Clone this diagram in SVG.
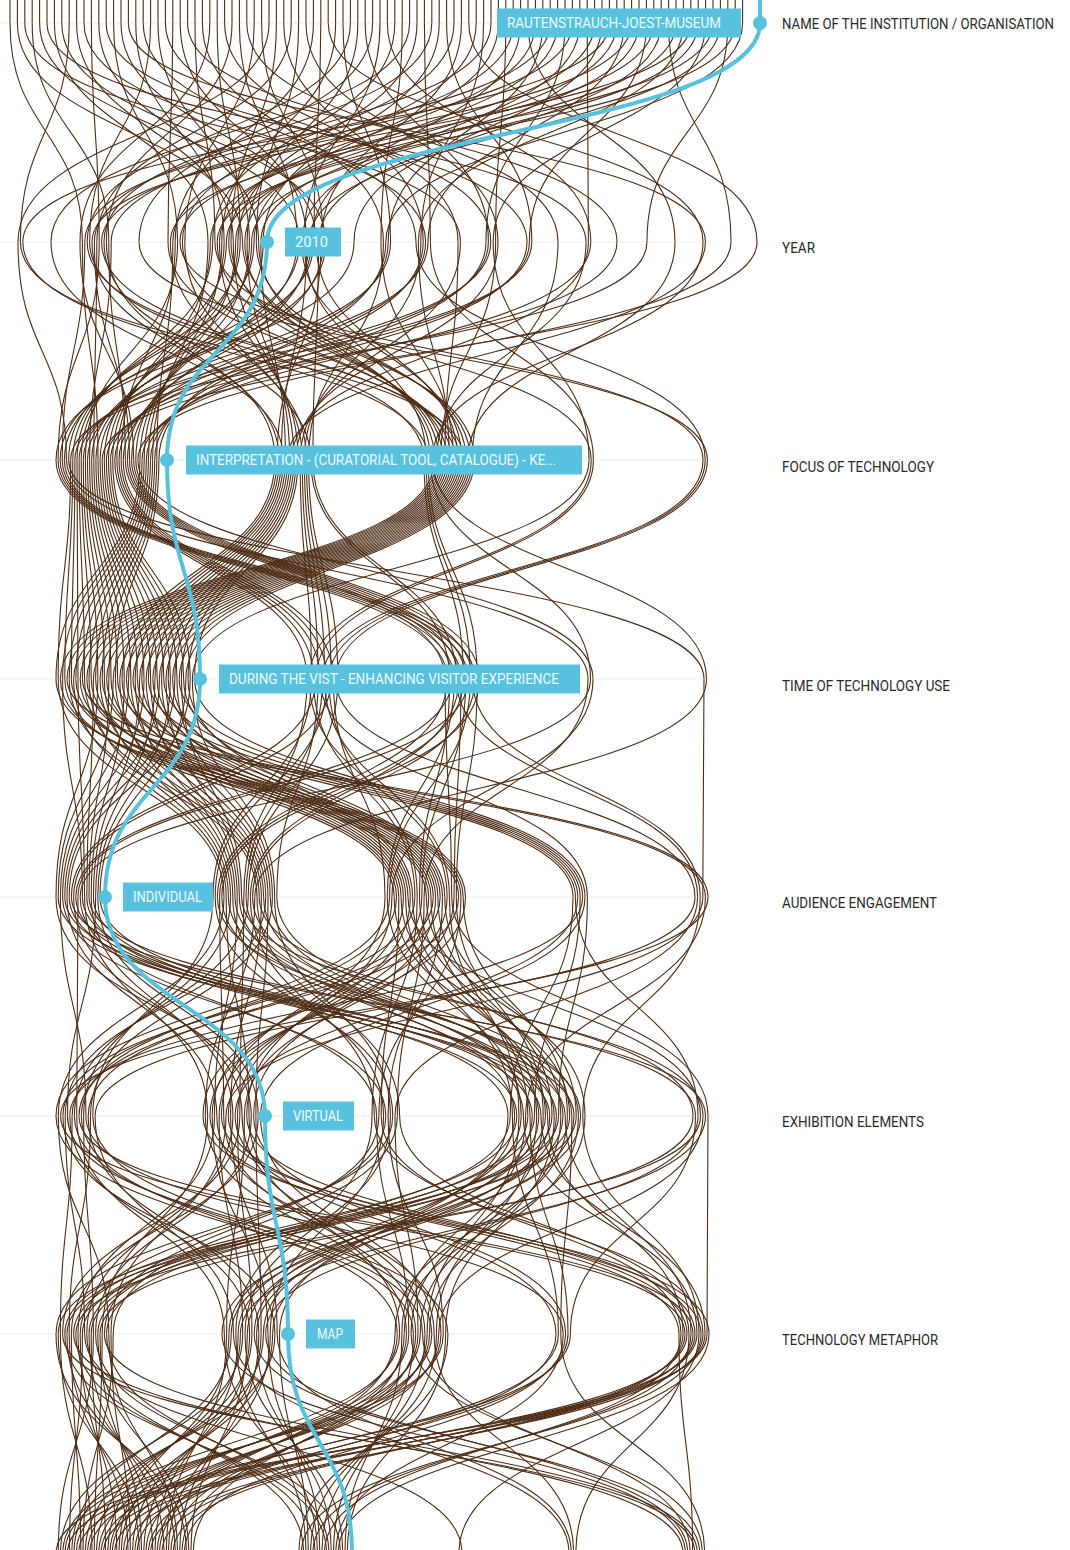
<svg xmlns="http://www.w3.org/2000/svg" width="1070" height="1550" viewBox="0 0 1070 1550">
<style>
.lbl{font-family:"Roboto","Liberation Sans",sans-serif;font-size:14px;fill:#2a2a2a;}
.bt{font-family:"Roboto","Liberation Sans",sans-serif;font-size:14px;fill:#eef9fc;}
.box{fill:#58c1de;}
.dot{fill:#58c1de;}
</style>
<rect width="1070" height="1550" fill="#ffffff"/>
<g id="connectors" fill="none" stroke="#4d2d16" stroke-width="1.1">
<path d="M10 0V23C10 132 82.4 132 82.4 242S98 351 98 460S144 570 144 679S62.6 788 62.6 897S385.8 1006 385.8 1116S80.2 1225 80.2 1334S116.8 1443 116.8 1553"/>
<path d="M17.4 0V23C17.4 132 242.5 132 242.5 242S470.2 351 470.2 460S172.6 570 172.6 679S410.3 788 410.3 897S237.5 1006 237.5 1116S251.9 1225 251.9 1334S96.5 1443 96.5 1553"/>
<path d="M24.8 0V23C24.8 132 460.4 132 460.4 242S300.2 351 300.2 460S311.4 570 311.4 679S213 788 213 897S92.8 1006 92.8 1116S431.8 1225 431.8 1334S76.3 1443 76.3 1553"/>
<path d="M32.2 0V23C32.2 132 108.8 132 108.8 242S125.3 351 125.3 460S445 570 445 679S451.7 788 451.7 897S708 1006 708 1116S707 1225 707 1334S56 1443 56 1553"/>
<path d="M39.6 0V23C39.6 132 299.4 132 299.4 242S64.4 351 64.4 460S474.9 570 474.9 679S252.6 788 252.6 897S563 1006 563 1116S222 1225 222 1334S685.4 1443 685.4 1553"/>
<path d="M47 0V23C47 132 586 132 586 242S436.6 351 436.6 460S67 570 67 679S705.4 788 705.4 897S525.6 1006 525.6 1116S401.9 1225 401.9 1334S345 1443 345 1553"/>
<path d="M54.4 0V23C54.4 132 208 132 208 242S152.6 351 152.6 460S95.6 570 95.6 679S398.8 788 398.8 897S381.2 1006 381.2 1116S681 1225 681 1334S324.3 1443 324.3 1553"/>
<path d="M61.8 0V23C61.8 132 325.8 132 325.8 242S91.7 351 91.7 460S124.2 570 124.2 679S91.2 788 91.2 897S232.9 1006 232.9 1116S86.8 1225 86.8 1334S303.6 1443 303.6 1553"/>
<path d="M69.2 0V23C69.2 132 20.4 132 20.4 242S463.9 351 463.9 460S152.8 570 152.8 679S440.2 788 440.2 897S88.2 1006 88.2 1116S258.8 1225 258.8 1334S179.8 1443 179.8 1553"/>
<path d="M76.6 0V23C76.6 132 233.3 132 233.3 242S293.9 351 293.9 460S181.4 570 181.4 679S241.6 788 241.6 897S703 1006 703 1116S438.7 1225 438.7 1334S159.5 1443 159.5 1553"/>
<path d="M84 0V23C84 132 425.6 132 425.6 242S119 351 119 460S320.2 570 320.2 679S587.4 788 587.4 897S558.6 1006 558.6 1116S58.2 1225 58.2 1334S139.3 1443 139.3 1553"/>
<path d="M91.4 0V23C91.4 132 99.2 132 99.2 242S58.1 351 58.1 460S454.2 570 454.2 679S387.3 788 387.3 897S521.2 1006 521.2 1116S228.9 1225 228.9 1334S119 1443 119 1553"/>
<path d="M98.8 0V23C98.8 132 258.6 132 258.6 242S430.3 351 430.3 460S590.5 570 590.5 679S80.2 788 80.2 897S376.6 1006 376.6 1116S408.8 1225 408.8 1334S98.8 1443 98.8 1553"/>
<path d="M106.2 0V23C106.2 132 527 132 527 242S146.3 351 146.3 460S75.8 570 75.8 679S428.7 788 428.7 897S228.3 1006 228.3 1116S687 1225 687 1334S78.5 1443 78.5 1553"/>
<path d="M113.6 0V23C113.6 132 177.6 132 177.6 242S85.4 351 85.4 460S104.4 570 104.4 679S230.6 788 230.6 897S83.6 1006 83.6 1116S93.4 1225 93.4 1334S58.3 1443 58.3 1553"/>
<path d="M121 0V23C121 132 316.2 132 316.2 242S457.6 351 457.6 460S133 570 133 679S575.4 788 575.4 897S698 1006 698 1116S265.7 1225 265.7 1334S687.8 1443 687.8 1553"/>
<path d="M128.4 0V23C128.4 132 705.4 132 705.4 242S287.6 351 287.6 460S161.6 570 161.6 679S270.2 788 270.2 897S554.2 1006 554.2 1116S445.6 1225 445.6 1334S347.3 1443 347.3 1553"/>
<path d="M135.8 0V23C135.8 132 224.1 132 224.1 242S112.7 351 112.7 460S190.2 570 190.2 679S69.2 788 69.2 897S516.8 1006 516.8 1116S64.8 1225 64.8 1334S326.6 1443 326.6 1553"/>
<path d="M143.2 0V23C143.2 132 416 132 416 242S705.2 351 705.2 460S329 570 329 679S417.2 788 417.2 897S372 1006 372 1116S235.8 1225 235.8 1334S305.9 1443 305.9 1553"/>
<path d="M150.6 0V23C150.6 132 89.6 132 89.6 242S424 351 424 460S463.4 570 463.4 679S219.6 788 219.6 897S223.7 1006 223.7 1116S415.7 1225 415.7 1334S182 1443 182 1553"/>
<path d="M158 0V23C158 132 249.4 132 249.4 242S140 351 140 460S56 570 56 679S458.6 788 458.6 897S79 1006 79 1116S693 1225 693 1334S161.8 1443 161.8 1553"/>
<path d="M165.4 0V23C165.4 132 490.8 132 490.8 242S79.1 351 79.1 460S84.6 570 84.6 679S259.2 788 259.2 897S693 1006 693 1116S100 1225 100 1334S141.5 1443 141.5 1553"/>
<path d="M172.8 0V23C172.8 132 168 132 168 242S451.3 351 451.3 460S113.2 570 113.2 679S58.2 788 58.2 897S549.8 1006 549.8 1116S272.6 1225 272.6 1334S121.3 1443 121.3 1553"/>
<path d="M180.2 0V23C180.2 132 306.6 132 306.6 242S281.3 351 281.3 460S141.8 570 141.8 679S405.7 788 405.7 897S512.4 1006 512.4 1116S558.4 1225 558.4 1334S101 1443 101 1553"/>
<path d="M187.6 0V23C187.6 132 617 132 617 242S106.4 351 106.4 460S170.4 570 170.4 679S97.8 788 97.8 897S258.2 1006 258.2 1116S71.4 1225 71.4 1334S80.8 1443 80.8 1553"/>
<path d="M195 0V23C195 132 214.9 132 214.9 242S591.2 351 591.2 460S309.2 570 309.2 679S447.1 788 447.1 897S219.1 1006 219.1 1116S242.7 1225 242.7 1334S60.5 1443 60.5 1553"/>
<path d="M202.4 0V23C202.4 132 383.4 132 383.4 242S308.6 351 308.6 460S337.8 570 337.8 679S248.2 788 248.2 897S74.4 1006 74.4 1116S422.6 1225 422.6 1334S690.2 1443 690.2 1553"/>
<path d="M209.8 0V23C209.8 132 80 132 80 242S133.7 351 133.7 460S472.6 570 472.6 679S700.2 788 700.2 897S582.8 1006 582.8 1116S699 1225 699 1334S459 1443 459 1553"/>
<path d="M217.2 0V23C217.2 132 240.2 132 240.2 242S72.8 351 72.8 460S64.8 570 64.8 679S394.2 788 394.2 897S545.4 1006 545.4 1116S106.6 1225 106.6 1334S328.9 1443 328.9 1553"/>
<path d="M224.6 0V23C224.6 132 458 132 458 242S445 351 445 460S93.4 570 93.4 679S86.8 788 86.8 897S508 1006 508 1116S279.5 1225 279.5 1334S308.2 1443 308.2 1553"/>
<path d="M232 0V23C232 132 106.4 132 106.4 242S275 351 275 460S122 570 122 679S435.6 788 435.6 897S253.6 1006 253.6 1116S565.6 1225 565.6 1334S184.3 1443 184.3 1553"/>
<path d="M239.4 0V23C239.4 132 297 132 297 242S100.1 351 100.1 460S150.6 570 150.6 679S237.2 788 237.2 897S214.5 1006 214.5 1116S78 1225 78 1334S164 1443 164 1553"/>
<path d="M246.8 0V23C246.8 132 558 132 558 242S472.3 351 472.3 460S179.2 570 179.2 679S582.6 788 582.6 897S69.8 1006 69.8 1116S249.6 1225 249.6 1334S143.8 1443 143.8 1553"/>
<path d="M254.2 0V23C254.2 132 184.8 132 184.8 242S302.3 351 302.3 460S318 570 318 679S276.8 788 276.8 897S578.4 1006 578.4 1116S429.5 1225 429.5 1334S123.5 1443 123.5 1553"/>
<path d="M261.6 0V23C261.6 132 323.4 132 323.4 242S127.4 351 127.4 460S451.9 570 451.9 679S75.8 788 75.8 897S541 1006 541 1116S705 1225 705 1334S103.3 1443 103.3 1553"/>
<path d="M269 0V23C269 132 18 132 18 242S66.5 351 66.5 460S588 570 588 679S424.1 788 424.1 897S397.3 1006 397.3 1116S113.2 1225 113.2 1334S83 1443 83 1553"/>
<path d="M276.4 0V23C276.4 132 231 132 231 242S438.7 351 438.7 460S73.6 570 73.6 679S226.2 788 226.2 897S249 1006 249 1116S399.6 1225 399.6 1334S62.8 1443 62.8 1553"/>
<path d="M283.8 0V23C283.8 132 423.2 132 423.2 242S154.7 351 154.7 460S102.2 570 102.2 679S465.5 788 465.5 897S209.9 1006 209.9 1116S679 1225 679 1334S692.6 1443 692.6 1553"/>
<path d="M291.2 0V23C291.2 132 96.8 132 96.8 242S93.8 351 93.8 460S130.8 570 130.8 679S265.8 788 265.8 897S65.2 1006 65.2 1116S84.6 1225 84.6 1334S462 1443 462 1553"/>
<path d="M298.6 0V23C298.6 132 256.3 132 256.3 242S466 351 466 460S159.4 570 159.4 679S64.8 788 64.8 897S574 1006 574 1116S256.5 1225 256.5 1334S331.2 1443 331.2 1553"/>
<path d="M306 0V23C306 132 498 132 498 242S296 351 296 460S188 570 188 679S412.6 788 412.6 897S536.6 1006 536.6 1116S436.4 1225 436.4 1334S310.5 1443 310.5 1553"/>
<path d="M313.4 0V23C313.4 132 175.2 132 175.2 242S121.1 351 121.1 460S326.8 570 326.8 679S215.2 788 215.2 897S392.7 1006 392.7 1116S56 1225 56 1334S186.5 1443 186.5 1553"/>
<path d="M320.8 0V23C320.8 132 313.8 132 313.8 242S60.2 351 60.2 460S461.1 570 461.1 679S454 788 454 897S244.4 1006 244.4 1116S226.6 1225 226.6 1334S166.3 1443 166.3 1553"/>
<path d="M328.2 0V23C328.2 132 703 132 703 242S432.4 351 432.4 460S706.5 570 706.5 679S254.8 788 254.8 897S205.3 1006 205.3 1116S406.5 1225 406.5 1334S146 1443 146 1553"/>
<path d="M335.6 0V23C335.6 132 221.8 132 221.8 242S148.4 351 148.4 460S82.4 570 82.4 679S708 788 708 897S60.6 1006 60.6 1116S685 1225 685 1334S125.8 1443 125.8 1553"/>
<path d="M343 0V23C343 132 390.6 132 390.6 242S87.5 351 87.5 460S111 570 111 679S401.1 788 401.1 897S569.6 1006 569.6 1116S91.2 1225 91.2 1334S105.5 1443 105.5 1553"/>
<path d="M350.4 0V23C350.4 132 87.2 132 87.2 242S459.7 351 459.7 460S139.6 570 139.6 679S93.4 788 93.4 897S532.2 1006 532.2 1116S263.4 1225 263.4 1334S85.3 1443 85.3 1553"/>
<path d="M357.8 0V23C357.8 132 247.1 132 247.1 242S289.7 351 289.7 460S168.2 570 168.2 679S442.5 788 442.5 897S388.1 1006 388.1 1116S443.3 1225 443.3 1334S65 1443 65 1553"/>
<path d="M365.2 0V23C365.2 132 488.4 132 488.4 242S114.8 351 114.8 460S307 570 307 679S243.8 788 243.8 897S239.8 1006 239.8 1116S62.6 1225 62.6 1334S695 1443 695 1553"/>
<path d="M372.6 0V23C372.6 132 139 132 139 242S707.4 351 707.4 460S335.6 570 335.6 679S695 788 695 897S95.1 1006 95.1 1116S233.5 1225 233.5 1334S569 1443 569 1553"/>
<path d="M380 0V23C380 132 304.2 132 304.2 242S426.1 351 426.1 460S470.3 570 470.3 679S389.6 788 389.6 897S56 1006 56 1116S413.4 1225 413.4 1334S333.5 1443 333.5 1553"/>
<path d="M387.4 0V23C387.4 132 590.8 132 590.8 242S142.1 351 142.1 460S62.6 570 62.6 679S82.4 788 82.4 897S565.2 1006 565.2 1116S691 1225 691 1334S312.8 1443 312.8 1553"/>
<path d="M394.8 0V23C394.8 132 212.6 132 212.6 242S81.2 351 81.2 460S91.2 570 91.2 679S431 788 431 897S527.8 1006 527.8 1116S97.8 1225 97.8 1334S188.8 1443 188.8 1553"/>
<path d="M402.2 0V23C402.2 132 381 132 381 242S453.4 351 453.4 460S119.8 570 119.8 679S232.8 788 232.8 897S383.5 1006 383.5 1116S270.3 1225 270.3 1334S168.5 1443 168.5 1553"/>
<path d="M409.6 0V23C409.6 132 51 132 51 242S283.4 351 283.4 460S148.4 570 148.4 679S577.8 788 577.8 897S235.2 1006 235.2 1116S556 1225 556 1334S148.3 1443 148.3 1553"/>
<path d="M417 0V23C417 132 237.9 132 237.9 242S108.5 351 108.5 460S177 570 177 679S272.4 788 272.4 897S90.5 1006 90.5 1116S69.2 1225 69.2 1334S128 1443 128 1553"/>
<path d="M424.4 0V23C424.4 132 430.4 132 430.4 242S593.4 351 593.4 460S315.8 570 315.8 679S71.4 788 71.4 897S705.5 1006 705.5 1116S240.4 1225 240.4 1334S107.8 1443 107.8 1553"/>
<path d="M431.8 0V23C431.8 132 104 132 104 242S310.7 351 310.7 460S449.6 570 449.6 679S419.5 788 419.5 897S560.8 1006 560.8 1116S420.3 1225 420.3 1334S87.5 1443 87.5 1553"/>
<path d="M439.2 0V23C439.2 132 263.2 132 263.2 242S135.8 351 135.8 460S479.5 570 479.5 679S221.8 788 221.8 897S523.4 1006 523.4 1116S697 1225 697 1334S67.3 1443 67.3 1553"/>
<path d="M446.6 0V23C446.6 132 531.8 132 531.8 242S74.9 351 74.9 460S71.4 570 71.4 679S460.9 788 460.9 897S378.9 1006 378.9 1116S104.4 1225 104.4 1334S697.4 1443 697.4 1553"/>
<path d="M454 0V23C454 132 182.4 132 182.4 242S447.1 351 447.1 460S100 570 100 679S261.4 788 261.4 897S230.6 1006 230.6 1116S277.2 1225 277.2 1334S571.3 1443 571.3 1553"/>
<path d="M461.4 0V23C461.4 132 321 132 321 242S277.1 351 277.1 460S128.6 570 128.6 679S60.4 788 60.4 897S85.9 1006 85.9 1116S563.2 1225 563.2 1334S335.8 1443 335.8 1553"/>
<path d="M468.8 0V23C468.8 132 757 132 757 242S102.2 351 102.2 460S157.2 570 157.2 679S408 788 408 897S700.5 1006 700.5 1116S75.8 1225 75.8 1334S315.1 1443 315.1 1553"/>
<path d="M476.2 0V23C476.2 132 228.7 132 228.7 242S474.4 351 474.4 460S185.8 570 185.8 679S100 788 100 897S556.4 1006 556.4 1116S247.3 1225 247.3 1334S191 1443 191 1553"/>
<path d="M483.6 0V23C483.6 132 420.8 132 420.8 242S304.4 351 304.4 460S324.6 570 324.6 679S449.4 788 449.4 897S519 1006 519 1116S427.2 1225 427.2 1334S170.8 1443 170.8 1553"/>
<path d="M491 0V23C491 132 94.4 132 94.4 242S129.5 351 129.5 460S458.8 570 458.8 679S250.4 788 250.4 897S374.3 1006 374.3 1116S703 1225 703 1334S150.5 1443 150.5 1553"/>
<path d="M498.4 0V23C498.4 132 254 132 254 242S68.6 351 68.6 460S704 570 704 679S702.8 788 702.8 897S226 1006 226 1116S111 1225 111 1334S130.3 1443 130.3 1553"/>
<path d="M505.8 0V23C505.8 132 495.6 132 495.6 242S440.8 351 440.8 460S80.2 570 80.2 679S396.5 788 396.5 897S81.3 1006 81.3 1116S397.3 1225 397.3 1334S110 1443 110 1553"/>
<path d="M513.2 0V23C513.2 132 172.8 132 172.8 242S156.8 351 156.8 460S108.8 570 108.8 679S89 788 89 897S695.5 1006 695.5 1116S570.4 1225 570.4 1334S89.8 1443 89.8 1553"/>
<path d="M520.6 0V23C520.6 132 311.4 132 311.4 242S95.9 351 95.9 460S137.4 570 137.4 679S437.9 788 437.9 897S552 1006 552 1116S82.4 1225 82.4 1334S69.5 1443 69.5 1553"/>
<path d="M528 0V23C528 132 675 132 675 242S468.1 351 468.1 460S166 570 166 679S239.4 788 239.4 897S514.6 1006 514.6 1116S254.2 1225 254.2 1334S699.8 1443 699.8 1553"/>
<path d="M535.4 0V23C535.4 132 219.5 132 219.5 242S298.1 351 298.1 460S194.6 570 194.6 679S585 788 585 897S260.5 1006 260.5 1116S434.1 1225 434.1 1334S573.6 1443 573.6 1553"/>
<path d="M542.8 0V23C542.8 132 388.2 132 388.2 242S123.2 351 123.2 460S333.4 570 333.4 679S385 788 385 897S221.4 1006 221.4 1116S709 1225 709 1334S338.1 1443 338.1 1553"/>
<path d="M550.2 0V23C550.2 132 84.8 132 84.8 242S62.3 351 62.3 460S468 570 468 679S78 788 78 897S76.7 1006 76.7 1116S224.3 1225 224.3 1334S317.4 1443 317.4 1553"/>
<path d="M557.6 0V23C557.6 132 244.8 132 244.8 242S434.5 351 434.5 460S60.4 570 60.4 679S426.4 788 426.4 897S585 1006 585 1116S404.2 1225 404.2 1334S193.3 1443 193.3 1553"/>
<path d="M565 0V23C565 132 486 132 486 242S150.5 351 150.5 460S89 570 89 679S228.4 788 228.4 897S547.6 1006 547.6 1116S683 1225 683 1334S173 1443 173 1553"/>
<path d="M572.4 0V23C572.4 132 111.2 132 111.2 242S89.6 351 89.6 460S117.6 570 117.6 679S573 788 573 897S510.2 1006 510.2 1116S89 1225 89 1334S152.8 1443 152.8 1553"/>
<path d="M579.8 0V23C579.8 132 301.8 132 301.8 242S461.8 351 461.8 460S146.2 570 146.2 679S268 788 268 897S255.9 1006 255.9 1116S261.1 1225 261.1 1334S132.5 1443 132.5 1553"/>
<path d="M587.2 0V23C587.2 132 588.4 132 588.4 242S291.8 351 291.8 460S174.8 570 174.8 679S67 788 67 897S216.8 1006 216.8 1116S441 1225 441 1334S112.3 1443 112.3 1553"/>
<path d="M594.6 0V23C594.6 132 210.3 132 210.3 242S116.9 351 116.9 460S313.6 570 313.6 679S414.9 788 414.9 897S72.1 1006 72.1 1116S60.4 1225 60.4 1334S92 1443 92 1553"/>
<path d="M602 0V23C602 132 354 132 354 242S56 351 56 460S447.3 570 447.3 679S217.4 788 217.4 897S580.6 1006 580.6 1116S231.2 1225 231.2 1334S71.8 1443 71.8 1553"/>
<path d="M609.4 0V23C609.4 132 22.8 132 22.8 242S428.2 351 428.2 460S477.2 570 477.2 679S456.3 788 456.3 897S543.2 1006 543.2 1116S411.1 1225 411.1 1334S702.2 1443 702.2 1553"/>
<path d="M616.8 0V23C616.8 132 235.6 132 235.6 242S144.2 351 144.2 460S69.2 570 69.2 679S257 788 257 897S399.6 1006 399.6 1116S689 1225 689 1334S575.9 1443 575.9 1553"/>
<path d="M624.2 0V23C624.2 132 428 132 428 242S83.3 351 83.3 460S97.8 570 97.8 679S56 788 56 897S251.3 1006 251.3 1116S95.6 1225 95.6 1334S340.4 1443 340.4 1553"/>
<path d="M631.6 0V23C631.6 132 101.6 132 101.6 242S455.5 351 455.5 460S126.4 570 126.4 679S403.4 788 403.4 897S212.2 1006 212.2 1116S268 1225 268 1334S319.7 1443 319.7 1553"/>
<path d="M639 0V23C639 132 260.9 132 260.9 242S285.5 351 285.5 460S155 570 155 679S95.6 788 95.6 897S67.5 1006 67.5 1116S447.9 1225 447.9 1334S299 1443 299 1553"/>
<path d="M646.4 0V23C646.4 132 529.4 132 529.4 242S110.6 351 110.6 460S183.6 570 183.6 679S444.8 788 444.8 897S576.2 1006 576.2 1116S67 1225 67 1334S175.3 1443 175.3 1553"/>
<path d="M653.8 0V23C653.8 132 180 132 180 242S703 351 703 460S322.4 570 322.4 679S246 788 246 897S538.8 1006 538.8 1116S238.1 1225 238.1 1334S155 1443 155 1553"/>
<path d="M661.2 0V23C661.2 132 318.6 132 318.6 242S312.8 351 312.8 460S456.5 570 456.5 679S697.6 788 697.6 897S395 1006 395 1116S418 1225 418 1334S134.8 1443 134.8 1553"/>
<path d="M668.6 0V23C668.6 132 731 132 731 242S137.9 351 137.9 460S593 570 593 679S391.9 788 391.9 897S246.7 1006 246.7 1116S695 1225 695 1334S114.5 1443 114.5 1553"/>
<path d="M676 0V23C676 132 226.4 132 226.4 242S77 351 77 460S78 570 78 679S84.6 788 84.6 897S207.6 1006 207.6 1116S102.2 1225 102.2 1334S94.3 1443 94.3 1553"/>
<path d="M683.4 0V23C683.4 132 418.4 132 418.4 242S449.2 351 449.2 460S106.6 570 106.6 679S433.3 788 433.3 897S62.9 1006 62.9 1116S274.9 1225 274.9 1334S74 1443 74 1553"/>
<path d="M690.8 0V23C690.8 132 92 132 92 242S279.2 351 279.2 460S135.2 570 135.2 679S235 788 235 897S571.8 1006 571.8 1116S560.8 1225 560.8 1334S704.6 1443 704.6 1553"/>
<path d="M698.2 0V23C698.2 132 251.7 132 251.7 242S104.3 351 104.3 460S163.8 570 163.8 679S580.2 788 580.2 897S534.4 1006 534.4 1116S73.6 1225 73.6 1334S683 1443 683 1553"/>
<path d="M705.6 0V23C705.6 132 493.2 132 493.2 242S589 351 589 460S192.4 570 192.4 679S274.6 788 274.6 897S390.4 1006 390.4 1116S245 1225 245 1334S342.7 1443 342.7 1553"/>
<path d="M713 0V23C713 132 170.4 132 170.4 242S306.5 351 306.5 460S331.2 570 331.2 679S73.6 788 73.6 897S242.1 1006 242.1 1116S424.9 1225 424.9 1334S322 1443 322 1553"/>
<path d="M720.4 0V23C720.4 132 309 132 309 242S131.6 351 131.6 460S465.7 570 465.7 679S421.8 788 421.8 897S203 1006 203 1116S701 1225 701 1334S301.3 1443 301.3 1553"/>
<path d="M727.8 0V23C727.8 132 647 132 647 242S70.7 351 70.7 460S58.2 570 58.2 679S224 788 224 897S58.3 1006 58.3 1116S108.8 1225 108.8 1334S177.5 1443 177.5 1553"/>
<path d="M735.2 0V23C735.2 132 217.2 132 217.2 242S442.9 351 442.9 460S86.8 570 86.8 679S463.2 788 463.2 897S567.4 1006 567.4 1116S395 1225 395 1334S157.3 1443 157.3 1553"/>
<path d="M742.6 0V23C742.6 132 385.8 132 385.8 242S158.9 351 158.9 460S115.4 570 115.4 679S263.6 788 263.6 897S530 1006 530 1116S568 1225 568 1334S137 1443 137 1553"/>
</g>
<g id="axis-guides" stroke="#cbbcae" stroke-opacity="0.3" stroke-width="1">
<line x1="0" y1="23" x2="712" y2="23"/>
<line x1="0" y1="242" x2="712" y2="242"/>
<line x1="0" y1="460" x2="712" y2="460"/>
<line x1="0" y1="679" x2="712" y2="679"/>
<line x1="0" y1="897" x2="712" y2="897"/>
<line x1="0" y1="1116" x2="712" y2="1116"/>
<line x1="0" y1="1334" x2="712" y2="1334"/>
</g>
<g id="highlight">
<path d="M760 0V23C760 132 267 132 267 242S167 351 167 460S200 570 200 679S105 788 105 897S265 1006 265 1116S288 1225 288 1334S352 1443 352 1553" fill="none" stroke="#58c1de" stroke-width="4"/>
<circle class="dot" cx="760" cy="23" r="7"/>
<circle class="dot" cx="267" cy="242" r="7"/>
<circle class="dot" cx="167" cy="460" r="7"/>
<circle class="dot" cx="200" cy="679" r="7"/>
<circle class="dot" cx="105" cy="897" r="7"/>
<circle class="dot" cx="265" cy="1116" r="7"/>
<circle class="dot" cx="288" cy="1334" r="7"/>
</g>
<g id="node-name">
<rect class="box" x="497" y="8.5" width="244" height="29"/>
<text class="bt" x="507" y="28" textLength="214" lengthAdjust="spacingAndGlyphs">RAUTENSTRAUCH-JOEST-MUSEUM</text>
</g>
<g id="node-year">
<rect class="box" x="285" y="227.5" width="56" height="29"/>
<text class="bt" x="295" y="247" textLength="33" lengthAdjust="spacingAndGlyphs">2010</text>
</g>
<g id="node-focus">
<rect class="box" x="186" y="445.5" width="396" height="29"/>
<text class="bt" x="196" y="465" textLength="360" lengthAdjust="spacingAndGlyphs">INTERPRETATION - (CURATORIAL TOOL, CATALOGUE) - KE...</text>
</g>
<g id="node-time">
<rect class="box" x="219" y="664.5" width="361" height="29"/>
<text class="bt" x="229" y="684" textLength="330" lengthAdjust="spacingAndGlyphs">DURING THE VIST - ENHANCING VISITOR EXPERIENCE</text>
</g>
<g id="node-audience">
<rect class="box" x="123" y="882.5" width="90" height="29"/>
<text class="bt" x="133" y="902" textLength="69" lengthAdjust="spacingAndGlyphs">INDIVIDUAL</text>
</g>
<g id="node-exhibition">
<rect class="box" x="283" y="1101.5" width="71" height="29"/>
<text class="bt" x="293" y="1121" textLength="50" lengthAdjust="spacingAndGlyphs">VIRTUAL</text>
</g>
<g id="node-metaphor">
<rect class="box" x="306" y="1319.5" width="49" height="29"/>
<text class="bt" x="317" y="1339" textLength="26" lengthAdjust="spacingAndGlyphs">MAP</text>
</g>
<g id="axis-labels">
<text class="lbl" x="782" y="28.5" textLength="272" lengthAdjust="spacingAndGlyphs">NAME OF THE INSTITUTION / ORGANISATION</text>
<text class="lbl" x="782" y="252.5" textLength="33" lengthAdjust="spacingAndGlyphs">YEAR</text>
<text class="lbl" x="782" y="471.5" textLength="152" lengthAdjust="spacingAndGlyphs">FOCUS OF TECHNOLOGY</text>
<text class="lbl" x="782" y="690.5" textLength="168" lengthAdjust="spacingAndGlyphs">TIME OF TECHNOLOGY USE</text>
<text class="lbl" x="782" y="907.5" textLength="155" lengthAdjust="spacingAndGlyphs">AUDIENCE ENGAGEMENT</text>
<text class="lbl" x="782" y="1126.5" textLength="142" lengthAdjust="spacingAndGlyphs">EXHIBITION ELEMENTS</text>
<text class="lbl" x="782" y="1344.5" textLength="156" lengthAdjust="spacingAndGlyphs">TECHNOLOGY METAPHOR</text>
</g>
</svg>
